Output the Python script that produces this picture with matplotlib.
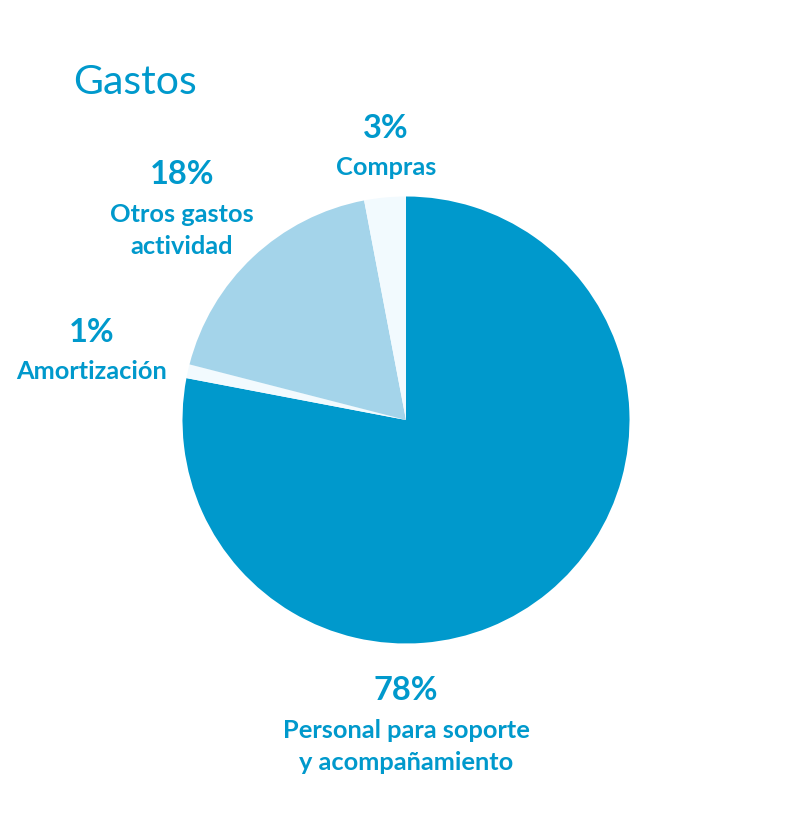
import matplotlib.pyplot as plt

plt.rcParams['font.family'] = ['Lato', 'DejaVu Sans']

categorias = ['Personal para soporte\ny acompañamiento', 'Amortización', 'Otros gastos\nactividad', 'Compras']
porcentajes = [78, 1, 18, 3]
colores = ['#0099CC', '#F2FAFE', '#A4D4EA', '#F2FAFE']

# posiciones de las etiquetas (en pixeles, y desde arriba)
pos_etiquetas = [(406, 691), (92, 332), (182, 175), (386, 128)]

azul = '#0099CC'

fig = plt.figure(figsize=(8.08, 8.40), dpi=100)
ax = fig.add_axes([0, 0, 1, 1])

ax.pie(porcentajes, colors=colores, startangle=90, counterclock=False,
       radius=223.5, center=(406, 840 - 420), frame=True,
       wedgeprops={'linewidth': 0})
ax.set_xlim(0, 808)
ax.set_ylim(0, 840)
ax.set_aspect('equal')
ax.axis('off')

for cat, pct, (x, y) in zip(categorias, porcentajes, pos_etiquetas):
    ax.text(x, 840 - y, f'{pct}%', ha='center', va='center',
            fontsize=23.5, fontweight='bold', color=azul)
    ax.text(x, 840 - y - 28, cat, ha='center', va='top',
            fontsize=18.3, fontweight='bold', color=azul, linespacing=1.5)

ax.text(73, 840 - 82, 'Gastos', ha='left', va='center', fontsize=29.5, color=azul)

plt.savefig('out.png', dpi=100)
